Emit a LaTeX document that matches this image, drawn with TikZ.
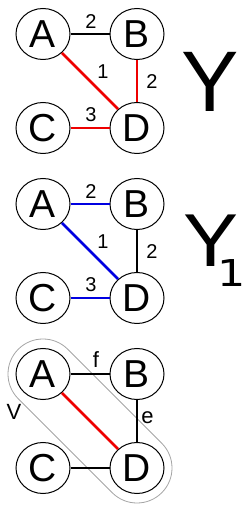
\documentclass[tikz,border=0pt]{standalone}
\usepackage{fontspec}
\usepackage{graphicx}
\setmainfont{Liberation Sans}
\newfontfamily\dejavu{DejaVu Sans}
\usetikzlibrary{shapes.geometric,calc}
\definecolor{myred}{RGB}{238,0,0}
\definecolor{myblue}{RGB}{0,0,225}
\definecolor{mygray}{RGB}{165,165,165}
\begin{document}
\begin{tikzpicture}[x=1pt,y=1pt,
 vtx/.style={ellipse,draw,line width=1pt,fill=white,minimum width=54pt,minimum height=51pt,inner sep=0pt,font=\fontsize{39}{39}\selectfont},
 edg/.style={line width=2.4pt},
 redg/.style={line width=2.8pt,draw=myred},
 bedg/.style={line width=2.8pt,draw=myblue},
 lbl/.style={font=\fontsize{20}{20}\selectfont,inner sep=0pt},
 lbll/.style={font=\fontsize{22}{22}\selectfont,inner sep=0pt},
 ]
\useasboundingbox (0,0) rectangle (250,511);

% ---------- panel 1 ----------
\node[vtx] (A1) at (43,477) {A};
\node[vtx] (B1) at (137,477) {B};
\node[vtx] (C1) at (43,383) {C};
\node[vtx] (D1) at (137,383) {D};
\draw[edg] (A1) -- (B1);
\draw[redg] (A1) -- (D1);
\draw[redg] (B1) -- (D1);
\draw[redg] (C1) -- (D1);
\node[lbl] (l11) at (91,489.5) {2};
\node[lbl] (l12) at (103,439.5) {1};
\node[lbl] (l13) at (152,429.5) {2};
\node[lbl] (l14) at (91,396) {3};
\node[anchor=base,inner sep=0pt,font=\fontsize{86}{86}\selectfont] (Y) at (210,399) {Y};

% ---------- panel 2 ----------
\node[vtx] (A2) at (43,307) {A};
\node[vtx] (B2) at (137,307) {B};
\node[vtx] (C2) at (43,213) {C};
\node[vtx] (D2) at (137,213) {D};
\draw[bedg] (A2) -- (B2);
\draw[bedg] (A2) -- (D2);
\draw[edg] (B2) -- (D2);
\draw[bedg] (C2) -- (D2);
\node[lbl] (l21) at (91,319.5) {2};
\node[lbl] (l22) at (103,269.5) {1};
\node[lbl] (l23) at (152,259.5) {2};
\node[lbl] (l24) at (91,226) {3};
\node[anchor=base west,inner sep=0pt,font=\fontsize{75}{75}\selectfont] (Y1) at (183,244)
  {\scalebox{1.1}[1]{Y}\kern-21pt\raisebox{-20pt}{\dejavu\fontsize{37}{37}\selectfont\scalebox{1.2}[1]{1}}};

% ---------- panel 3 ----------
\coordinate (a3) at (43,137);
\coordinate (d3) at (137,43);
\draw[mygray,line width=0.8pt]
  ($(a3)+(45:35pt)$) -- ($(d3)+(45:35pt)$)
  arc[start angle=45,end angle=-135,radius=35pt]
  -- ($(a3)+(-135:35pt)$)
  arc[start angle=-135,end angle=-315,radius=35pt] -- cycle;
\node[vtx] (A3) at (43,137) {A};
\node[vtx] (B3) at (137,137) {B};
\node[vtx] (C3) at (43,43) {C};
\node[vtx] (D3) at (137,43) {D};
\draw[edg] (A3) -- (B3);
\draw[redg] (A3) -- (D3);
\draw[edg] (B3) -- (D3);
\draw[edg] (C3) -- (D3);
\node[lbll] (f) at (96,151.5) {f};
\node[lbll] (e) at (147.5,93) {e};
\node[lbll] (V) at (14,99) {V};
\end{tikzpicture}
\end{document}
